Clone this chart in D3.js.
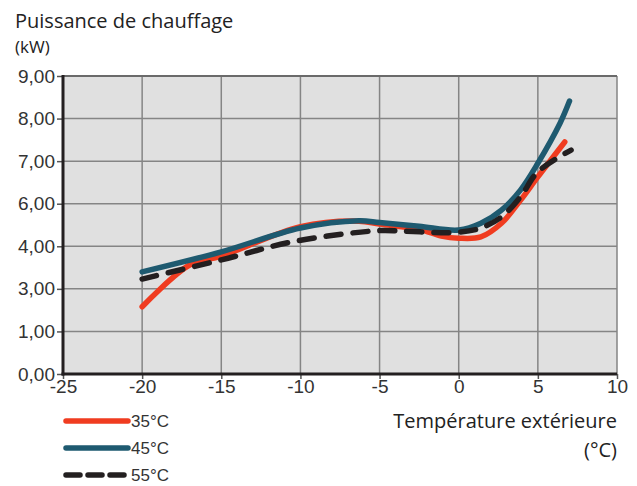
<!DOCTYPE html>
<html>
<head>
<meta charset="utf-8">
<script src="https://cdn.jsdelivr.net/npm/d3@7"></script>
<style>
  body { margin: 0; background: #fff; }
  svg { display: block; }
</style>
</head>
<body>
<svg width="637" height="486"></svg>
<script>
// x ticks (°C) and y tick labels (as printed, one per grid line)
const xTicks = [-25, -20, -15, -10, -5, 0, 5, 10];
const yTickLabels = ["0,00", "1,00", "3,00", "4,00", "6,00", "7,00", "8,00", "9,00"];

// values read in grid-line units (0 = bottom line, 7 = top line)
const temps35 = [-20, -17, -15, -10, -6.3, -5, -2.5, -1.1, 0, 1.4, 2.7, 3.9, 5, 6.7];
const vals35  = [1.58, 2.56, 2.77, 3.46, 3.59, 3.52, 3.40, 3.24, 3.19, 3.22, 3.54, 4.08, 4.63, 5.45];

const temps45 = [-20, -15, -10, -6.3, -5, -2.5, 0, 1.4, 2.7, 3.9, 5, 6.4, 7.0];
const vals45  = [2.40, 2.87, 3.43, 3.60, 3.56, 3.47, 3.38, 3.54, 3.85, 4.32, 4.95, 5.89, 6.41];

const temps55 = [-20, -15, -10.3, -5, -3.7, -1.1, 0, 1.4, 2.7, 3.9, 5, 7.1];
const vals55  = [2.23, 2.68, 3.12, 3.37, 3.36, 3.32, 3.33, 3.43, 3.69, 4.16, 4.75, 5.26];

const seriesNames = ["35°C", "45°C", "55°C"];
const seriesColors = ["#f03c20", "#1e5a70", "#231f20"];

const series = [
  { name: seriesNames[0], color: seriesColors[0], dash: null, values: temps35.map((t, i) => ({ t, v: vals35[i] })) },
  { name: seriesNames[1], color: seriesColors[1], dash: null, values: temps45.map((t, i) => ({ t, v: vals45[i] })) },
  { name: seriesNames[2], color: seriesColors[2], dash: "15 12", values: temps55.map((t, i) => ({ t, v: vals55[i] })) }
];

const svg = d3.select("svg");
const plot = { left: 63, right: 617, top: 76, bottom: 374 };

const x = d3.scaleLinear().domain([-25, 10]).range([plot.left, plot.right]);
const y = d3.scaleLinear().domain([0, yTickLabels.length - 1]).range([plot.bottom, plot.top]);

// titles
svg.append("text")
    .attr("x", 15).attr("y", 28)
    .attr("font-family", "'Open Sans', sans-serif")
    .attr("font-size", 20)
    .attr("fill", "#222")
    .text("Puissance de chauffage");

svg.append("text")
    .attr("x", 15).attr("y", 53)
    .attr("font-family", "'Open Sans', sans-serif")
    .attr("font-size", 17)
    .attr("fill", "#222")
    .text("(kW)");

// plot background
svg.append("rect")
    .attr("x", plot.left).attr("y", plot.top)
    .attr("width", plot.right - plot.left).attr("height", plot.bottom - plot.top)
    .attr("fill", "#e0e0e0");

// grid
const grid = svg.append("g").attr("stroke", "#858585").attr("stroke-width", 1.5);
grid.selectAll(".gx")
    .data(xTicks.slice(1))
    .enter().append("line")
    .attr("x1", d => x(d)).attr("x2", d => x(d))
    .attr("y1", plot.top).attr("y2", plot.bottom);
grid.selectAll(".gy")
    .data(d3.range(1, yTickLabels.length - 1))
    .enter().append("line")
    .attr("x1", plot.left).attr("x2", plot.right)
    .attr("y1", d => y(d)).attr("y2", d => y(d));

// top border
svg.append("line")
    .attr("x1", plot.left).attr("x2", plot.right)
    .attr("y1", plot.top).attr("y2", plot.top)
    .attr("stroke", "#6a6a6a").attr("stroke-width", 2);

// axes
const yAxis = svg.append("g")
    .attr("transform", `translate(${plot.left},0)`)
    .call(d3.axisLeft(y)
        .tickValues(d3.range(yTickLabels.length))
        .tickFormat(i => yTickLabels[i])
        .tickSize(6)
        .tickPadding(2));

const xAxis = svg.append("g")
    .attr("transform", `translate(0,${plot.bottom})`)
    .call(d3.axisBottom(x)
        .tickValues(xTicks)
        .tickFormat(d => d)
        .tickSize(5)
        .tickPadding(1));

[yAxis, xAxis].forEach(ax => {
    ax.select(".domain").remove();
    ax.selectAll(".tick line").attr("stroke", "#555").attr("stroke-width", 1.5);
    ax.selectAll(".tick text")
        .attr("font-family", "'Liberation Sans', Arial, sans-serif")
        .attr("font-size", 19)
        .attr("fill", "#333");
});

svg.append("line")
    .attr("x1", plot.left).attr("x2", plot.left)
    .attr("y1", plot.top - 1).attr("y2", plot.bottom + 1.5)
    .attr("stroke", "#231f20").attr("stroke-width", 3);
svg.append("line")
    .attr("x1", plot.left - 1.5).attr("x2", plot.right)
    .attr("y1", plot.bottom).attr("y2", plot.bottom)
    .attr("stroke", "#231f20").attr("stroke-width", 3);

// curves
const line = d3.line()
    .x(d => x(d.t))
    .y(d => y(d.v))
    .curve(d3.curveCatmullRom.alpha(0.5));

svg.append("g").selectAll("path")
    .data(series)
    .enter().append("path")
    .attr("d", d => line(d.values))
    .attr("fill", "none")
    .attr("stroke", d => d.color)
    .attr("stroke-width", 5.5)
    .attr("stroke-linecap", "round")
    .attr("stroke-dasharray", d => d.dash);

// x axis title
svg.append("text")
    .attr("x", 617).attr("y", 428)
    .attr("text-anchor", "end")
    .attr("font-family", "'Open Sans', sans-serif")
    .attr("font-size", 20)
    .attr("fill", "#222")
    .text("Température extérieure");
svg.append("text")
    .attr("x", 617).attr("y", 457)
    .attr("text-anchor", "end")
    .attr("font-family", "'Open Sans', sans-serif")
    .attr("font-size", 20)
    .attr("fill", "#222")
    .text("(°C)");

// legend
const legend = svg.append("g")
    .selectAll("g")
    .data(series)
    .enter().append("g")
    .attr("transform", (d, i) => `translate(66,${421 + i * 27})`);

legend.append("line")
    .attr("x1", 0).attr("x2", 62)
    .attr("stroke", d => d.color)
    .attr("stroke-width", 5.5)
    .attr("stroke-linecap", "round")
    .attr("stroke-dasharray", d => d.dash ? "14 8" : null);

legend.append("text")
    .attr("x", 65).attr("y", 6)
    .attr("font-family", "'Liberation Sans', Arial, sans-serif")
    .attr("font-size", 17)
    .attr("fill", "#333")
    .text(d => d.name);
</script>
</body>
</html>
